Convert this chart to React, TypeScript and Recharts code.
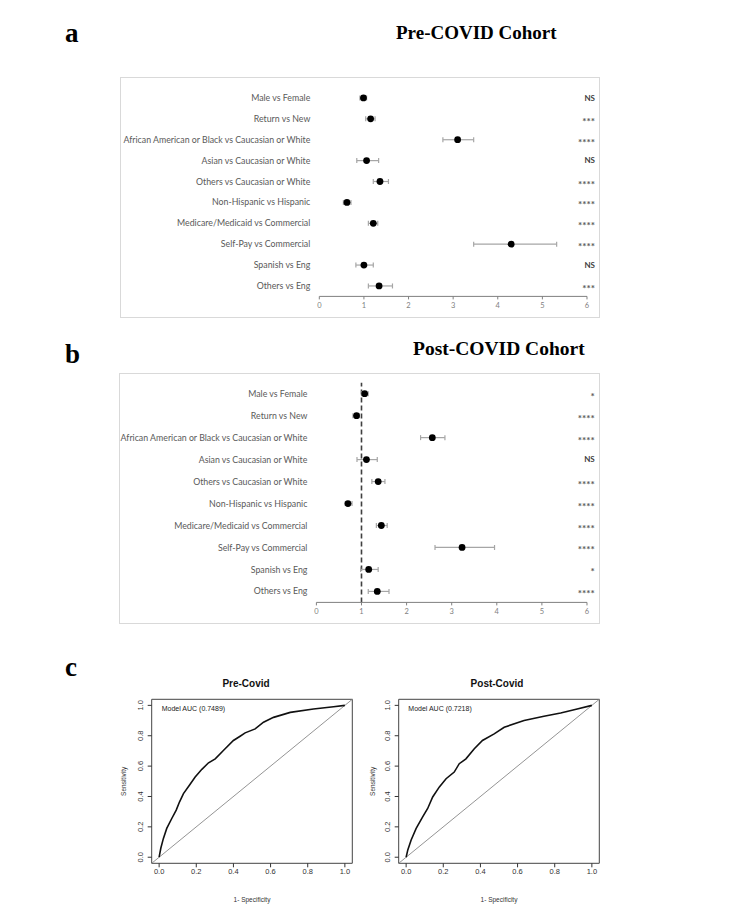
import React from "react"
import {
  ScatterChart,
  Scatter,
  XAxis,
  YAxis,
  ErrorBar,
  ReferenceLine,
  ReferenceArea,
  LineChart,
  Line,
} from "recharts"

// forest plot rows (top to bottom)
const rowLabels = [
  "Male vs Female",
  "Return vs New",
  "African American or Black vs Caucasian or White",
  "Asian vs Caucasian or White",
  "Others vs Caucasian or White",
  "Non-Hispanic vs Hispanic",
  "Medicare/Medicaid vs Commercial",
  "Self-Pay vs Commercial",
  "Spanish vs Eng",
  "Others vs Eng",
]

const preOr = [0.99, 1.15, 3.1, 1.06, 1.36, 0.62, 1.21, 4.3, 1.0, 1.34]
const preLo = [0.91, 1.04, 2.77, 0.84, 1.21, 0.54, 1.1, 3.46, 0.82, 1.1]
const preHi = [1.06, 1.25, 3.46, 1.33, 1.55, 0.71, 1.31, 5.32, 1.21, 1.64]
const preSig = ["NS", "***", "****", "NS", "****", "****", "****", "****", "NS", "***"]

const postOr = [1.07, 0.89, 2.57, 1.11, 1.37, 0.7, 1.44, 3.23, 1.16, 1.35]
const postLo = [1.0, 0.81, 2.31, 0.9, 1.23, 0.64, 1.33, 2.63, 0.98, 1.15]
const postHi = [1.15, 0.95, 2.85, 1.35, 1.52, 0.79, 1.57, 3.95, 1.37, 1.61]
const postSig = ["*", "****", "****", "NS", "****", "****", "****", "****", "*", "****"]

const orTicks = [0, 1, 2, 3, 4, 5, 6]
const rowTicks = rowLabels.map((_, i) => i)

// ROC curves
const rocTicks = [0, 0.2, 0.4, 0.6, 0.8, 1]
const preFpr = [0, 0.009, 0.023, 0.041, 0.068, 0.092, 0.11, 0.131, 0.163, 0.194, 0.23, 0.266, 0.302, 0.346, 0.4, 0.436, 0.463, 0.517, 0.562, 0.616, 0.706, 0.831, 0.939, 1]
const preTpr = [0, 0.059, 0.124, 0.19, 0.255, 0.31, 0.365, 0.419, 0.474, 0.528, 0.579, 0.622, 0.648, 0.703, 0.769, 0.797, 0.819, 0.845, 0.889, 0.921, 0.954, 0.976, 0.991, 1]
const postFpr = [0, 0.009, 0.027, 0.054, 0.089, 0.116, 0.143, 0.179, 0.215, 0.259, 0.286, 0.322, 0.367, 0.411, 0.474, 0.528, 0.635, 0.742, 0.832, 0.921, 1]
const postTpr = [0, 0.048, 0.114, 0.19, 0.266, 0.321, 0.397, 0.463, 0.517, 0.561, 0.616, 0.648, 0.714, 0.769, 0.812, 0.856, 0.9, 0.928, 0.95, 0.976, 1]

const forestFont = "Lato, 'Liberation Sans', sans-serif"
const rFont = "'Liberation Sans', Arial, sans-serif"
const serif = "'Liberation Serif', 'Times New Roman', serif"

type ForestProps = {
  left: number
  top: number
  width: number
  height: number
  marginTop: number
  labelWidth: number
  rightWidth: number
  axisHeight: number
  or: number[]
  lo: number[]
  hi: number[]
  sig: string[]
  refLine?: boolean
}

function Forest(p: ForestProps) {
  const data = p.or.map((v, i) => ({ or: v, idx: i, err: [v - p.lo[i], p.hi[i] - v] }))
  const sigX = p.width - 5
  return (
    <>
      <div
        style={{
          position: "absolute",
          left: p.left,
          top: p.top,
          width: p.width,
          height: p.height,
          border: "1px solid #d9d9d9",
          boxSizing: "border-box",
        }}
      />
      <div style={{ position: "absolute", left: p.left, top: p.top }}>
        <ScatterChart
          width={p.width}
          height={p.height}
          margin={{ top: p.marginTop, right: p.rightWidth, bottom: 0, left: 0 }}
        >
          <XAxis
            type="number"
            dataKey="or"
            domain={[0, 6]}
            ticks={orTicks}
            height={p.axisHeight}
            tickSize={3}
            tickMargin={3}
            stroke="#7f7f7f"
            tick={{ fontSize: 7.5, fill: "#7f7f7f", fontFamily: forestFont }}
          />
          <YAxis
            type="number"
            dataKey="idx"
            domain={[-0.5, 9.5]}
            ticks={rowTicks}
            reversed
            width={p.labelWidth}
            axisLine={false}
            tickLine={false}
            interval={0}
            tick={(t: any) => {
              const i = t.payload.value
              const s = p.sig[i]
              const ns = s === "NS"
              return (
                <g>
                  <text
                    x={p.labelWidth - 9}
                    y={t.y}
                    dy="0.35em"
                    textAnchor="end"
                    fontSize={8.8}
                    fontFamily={forestFont}
                    fill="#595959"
                  >
                    {rowLabels[i]}
                  </text>
                  <text
                    x={sigX}
                    y={t.y}
                    dy={ns ? "0.35em" : "0.6em"}
                    textAnchor="end"
                    fontSize={ns ? 8 : 10}
                    fontFamily={forestFont}
                    fontWeight={700}
                    fill={ns ? "#404040" : "#595959"}
                  >
                    {s}
                  </text>
                </g>
              )
            }}
          />
          {p.refLine && (
            <ReferenceLine x={1} stroke="#404040" strokeWidth={1.6} strokeDasharray="5 3" />
          )}
          <Scatter
            data={data}
            isAnimationActive={false}
            shape={(s: any) => <circle cx={s.cx} cy={s.cy} r={3.4} fill="#000" />}
          >
            <ErrorBar
              dataKey="err"
              direction="x"
              width={2.5}
              stroke="#a6a6a6"
              strokeWidth={1.2}
              isAnimationActive={false}
            />
          </Scatter>
        </ScatterChart>
      </div>
    </>
  )
}

type RocProps = {
  left: number
  title: string
  titleX: number
  auc: string
  fpr: number[]
  tpr: number[]
  yLabelOffset: number
}

function Roc(p: RocProps) {
  const data = p.fpr.map((x, i) => ({ fpr: x, tpr: p.tpr[i] }))
  const top = 675
  const plotLeft = p.left + 41.7
  return (
    <>
      <div
        style={{
          position: "absolute",
          left: p.titleX - 60,
          width: 120,
          top: 677,
          textAlign: "center",
          fontFamily: rFont,
          fontWeight: 700,
          fontSize: 10,
          lineHeight: "14px",
          color: "#111",
        }}
      >
        {p.title}
      </div>
      <div
        style={{
          position: "absolute",
          left: plotLeft + 10,
          top: 704,
          fontFamily: rFont,
          fontSize: 7,
          lineHeight: "10px",
          color: "#222",
        }}
      >
        Model AUC ({p.auc})
      </div>
      <div style={{ position: "absolute", left: p.left, top }}>
        <LineChart
          width={250}
          height={235}
          data={data}
          margin={{ top: 24.3, right: 7.7, bottom: 0, left: 0 }}
        >
          <XAxis
            type="number"
            dataKey="fpr"
            domain={[-0.04, 1.04]}
            ticks={rocTicks}
            allowDataOverflow
            height={46.7}
            tickSize={4}
            tickMargin={1}
            axisLine={false}
            stroke="#333"
            tickFormatter={(v: number) => v.toFixed(1)}
            tick={{ fontSize: 7.5, fill: "#333", fontFamily: rFont }}
            label={{
              value: "1- Specificity",
              position: "insideBottom",
              offset: 8,
              style: { fontSize: 6.5, fill: "#333", fontFamily: rFont },
            }}
          />
          <YAxis
            type="number"
            dataKey="tpr"
            domain={[-0.04, 1.04]}
            ticks={rocTicks}
            allowDataOverflow
            width={41.7}
            tickSize={4}
            tickMargin={5}
            axisLine={false}
            stroke="#333"
            tick={(t: any) => (
              <text
                x={t.x}
                y={t.y}
                transform={`rotate(-90 ${t.x} ${t.y})`}
                textAnchor="middle"
                fontSize={7.5}
                fill="#333"
                fontFamily={rFont}
              >
                {Number(t.payload.value).toFixed(1)}
              </text>
            )}
            label={{
              value: "Sensitivity",
              angle: -90,
              position: "insideLeft",
              offset: p.yLabelOffset,
              style: { fontSize: 6.5, fill: "#333", fontFamily: rFont, textAnchor: "middle" },
            }}
          />
          <ReferenceArea
            x1={-0.04}
            x2={1.04}
            y1={-0.04}
            y2={1.04}
            fill="none"
            fillOpacity={0}
            stroke="#444"
            strokeWidth={1}
          />
          <ReferenceLine
            segment={[
              { x: -0.04, y: -0.04 },
              { x: 1.04, y: 1.04 },
            ]}
            stroke="#888"
            strokeWidth={0.9}
          />
          <Line
            type="linear"
            dataKey="tpr"
            stroke="#111"
            strokeWidth={1.6}
            dot={false}
            isAnimationActive={false}
          />
        </LineChart>
      </div>
    </>
  )
}

const panelLetter = (txt: string, baseline: number) => (
  <div
    style={{
      position: "absolute",
      left: 65,
      top: baseline - 22,
      fontFamily: serif,
      fontWeight: 700,
      fontSize: 27,
      lineHeight: "27px",
      color: "#000",
    }}
  >
    {txt}
  </div>
)

export default function App() {
  return (
    <div
      style={{
        position: "absolute",
        left: 0,
        top: 0,
        width: 750,
        height: 912,
        background: "#fff",
        overflow: "hidden",
      }}
    >
      {panelLetter("a", 42)}
      <div
        style={{
          position: "absolute",
          left: 396,
          top: 22,
          fontFamily: serif,
          fontWeight: 700,
          fontSize: 19,
          lineHeight: "22px",
          color: "#000",
        }}
      >
        Pre-COVID Cohort
      </div>
      <Forest
        left={120}
        top={76.7}
        width={480}
        height={241.3}
        marginTop={10.5}
        labelWidth={199.3}
        rightWidth={13}
        axisHeight={21.9}
        or={preOr}
        lo={preLo}
        hi={preHi}
        sig={preSig}
      />

      {panelLetter("b", 363)}
      <div
        style={{
          position: "absolute",
          left: 413,
          top: 337,
          fontFamily: serif,
          fontWeight: 700,
          fontSize: 19.5,
          lineHeight: "23px",
          color: "#000",
        }}
      >
        Post-COVID Cohort
      </div>
      <Forest
        left={119.3}
        top={373.3}
        width={480.7}
        height={251}
        marginTop={9.7}
        labelWidth={197.4}
        rightWidth={12.7}
        axisHeight={21.6}
        or={postOr}
        lo={postLo}
        hi={postHi}
        sig={postSig}
        refLine
      />

      {panelLetter("c", 676)}
      <Roc
        left={110}
        title="Pre-Covid"
        titleX={246}
        auc="0.7489"
        fpr={preFpr}
        tpr={preTpr}
        yLabelOffset={13.3}
      />
      <Roc
        left={356.6}
        title="Post-Covid"
        titleX={497}
        auc="0.7218"
        fpr={postFpr}
        tpr={postTpr}
        yLabelOffset={15.7}
      />
    </div>
  )
}
